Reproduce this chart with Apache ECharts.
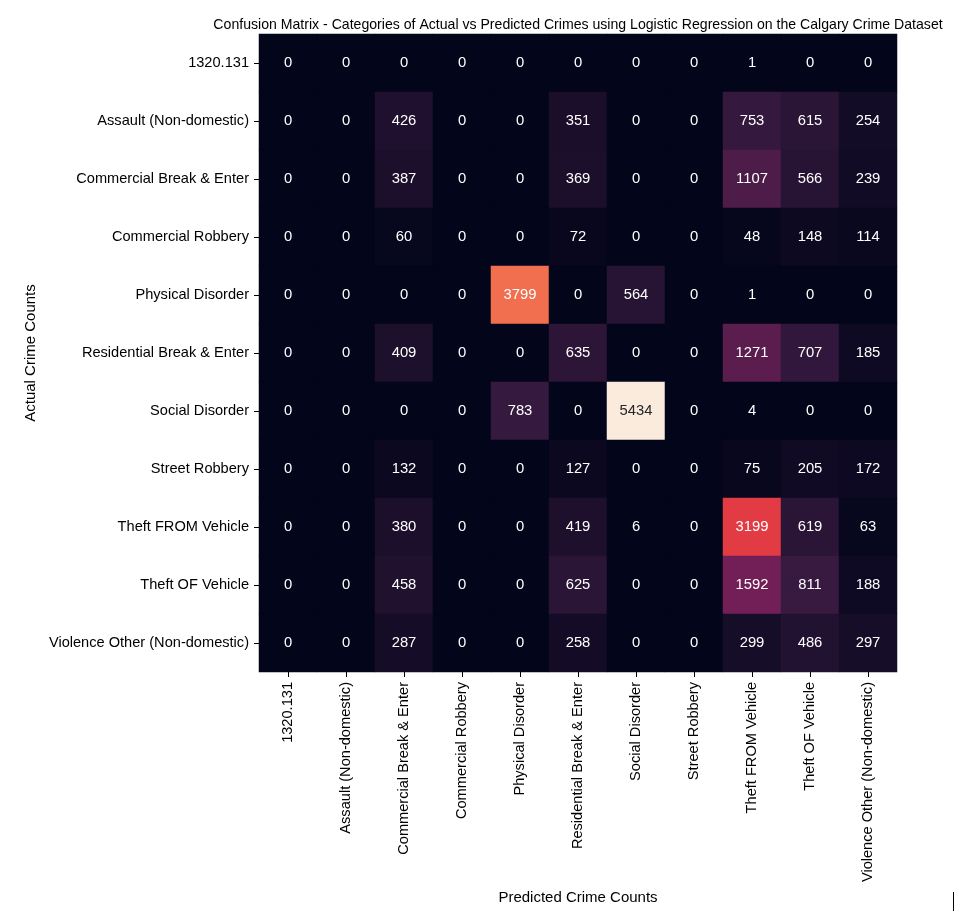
<!DOCTYPE html>
<html>
<head>
<meta charset="utf-8">
<script src="https://cdn.jsdelivr.net/npm/echarts@6/dist/echarts.min.js"></script>
<style>
html,body{margin:0;padding:0;background:#fff;}
#chart{width:971px;height:911px;}
</style>
</head>
<body>
<div id="chart"></div>
<script>
const categories = [
  "1320.131",
  "Assault (Non-domestic)",
  "Commercial Break & Enter",
  "Commercial Robbery",
  "Physical Disorder",
  "Residential Break & Enter",
  "Social Disorder",
  "Street Robbery",
  "Theft FROM Vehicle",
  "Theft OF Vehicle",
  "Violence Other (Non-domestic)"
];
// rows = actual, columns = predicted
const row_1320 =        [0, 0, 0,   0, 0,    0,   0,    0, 1,    0,   0];
const row_assault =     [0, 0, 426, 0, 0,    351, 0,    0, 753,  615, 254];
const row_commBE =      [0, 0, 387, 0, 0,    369, 0,    0, 1107, 566, 239];
const row_commRob =     [0, 0, 60,  0, 0,    72,  0,    0, 48,   148, 114];
const row_physDis =     [0, 0, 0,   0, 3799, 0,   564,  0, 1,    0,   0];
const row_resBE =       [0, 0, 409, 0, 0,    635, 0,    0, 1271, 707, 185];
const row_socDis =      [0, 0, 0,   0, 783,  0,   5434, 0, 4,    0,   0];
const row_streetRob =   [0, 0, 132, 0, 0,    127, 0,    0, 75,   205, 172];
const row_theftFrom =   [0, 0, 380, 0, 0,    419, 6,    0, 3199, 619, 63];
const row_theftOf =     [0, 0, 458, 0, 0,    625, 0,    0, 1592, 811, 188];
const row_violence =    [0, 0, 287, 0, 0,    258, 0,    0, 299,  486, 297];

const rows = [row_1320, row_assault, row_commBE, row_commRob, row_physDis, row_resBE,
              row_socDis, row_streetRob, row_theftFrom, row_theftOf, row_violence];

const rocket = ['#03051a', '#35193e', '#701f57', '#ad1759', '#e13342', '#f37651', '#f6b48f', '#faebdd'];

let vmax = 0;
rows.forEach(r => r.forEach(v => { if (v > vmax) vmax = v; }));

const data = [];
rows.forEach((r, yi) => {
  r.forEach((v, xi) => {
    data.push({
      value: [xi, yi, v],
      label: { color: (v / vmax) > 0.8 ? '#262626' : '#ffffff' }
    });
  });
});

const chart = echarts.init(document.getElementById('chart'), null, {renderer: 'canvas'});
const fontFam = 'Liberation Sans, Arial, sans-serif';
chart.setOption({
  backgroundColor: '#ffffff',
  animation: false,
  title: {
    text: 'Confusion Matrix - Categories of Actual vs Predicted Crimes using Logistic Regression on the Calgary Crime Dataset',
    left: 573, top: 13, textAlign: 'center',
    textStyle: { fontFamily: fontFam, fontSize: 14.1, fontWeight: 'normal', color: '#000' }
  },
  grid: { left: 259, top: 34, width: 638, height: 638, containLabel: false, outerBoundsMode: 'none' },
  xAxis: {
    type: 'category',
    data: categories,
    name: 'Predicted Crime Counts',
    nameLocation: 'middle',
    nameGap: 211,
    nameTextStyle: { fontFamily: fontFam, fontSize: 15, color: '#000' },
    axisLine: { show: false },
    axisTick: { show: true, alignWithLabel: true, length: 5, lineStyle: { color: '#000', width: 1 } },
    axisLabel: { rotate: 90, interval: 0, margin: 10, fontFamily: fontFam, fontSize: 14.6, color: '#000' },
    splitArea: { show: false }
  },
  yAxis: {
    type: 'category',
    data: categories,
    inverse: true,
    name: 'Actual Crime Counts',
    nameLocation: 'middle',
    nameGap: 209,
    nameRotate: 90,
    nameTextStyle: { fontFamily: fontFam, fontSize: 15, color: '#000' },
    axisLine: { show: false },
    axisTick: { show: true, alignWithLabel: true, length: 5, lineStyle: { color: '#000', width: 1 } },
    axisLabel: { interval: 0, margin: 10, fontFamily: fontFam, fontSize: 14.6, color: '#000' },
    splitArea: { show: false }
  },
  visualMap: {
    show: false,
    type: 'continuous',
    min: 0,
    max: vmax,
    dimension: 2,
    inRange: { color: rocket }
  },
  series: [{
    type: 'heatmap',
    data: data,
    label: { show: true, fontFamily: fontFam, fontSize: 14.8, formatter: p => String(p.value[2]) },
    itemStyle: { borderWidth: 0 },
    emphasis: { disabled: true }
  }],
  graphic: [{
    type: 'line',
    shape: { x1: 953.5, y1: 892, x2: 953.5, y2: 911 },
    style: { stroke: '#000', lineWidth: 1 }
  }]
});
</script>
</body>
</html>
